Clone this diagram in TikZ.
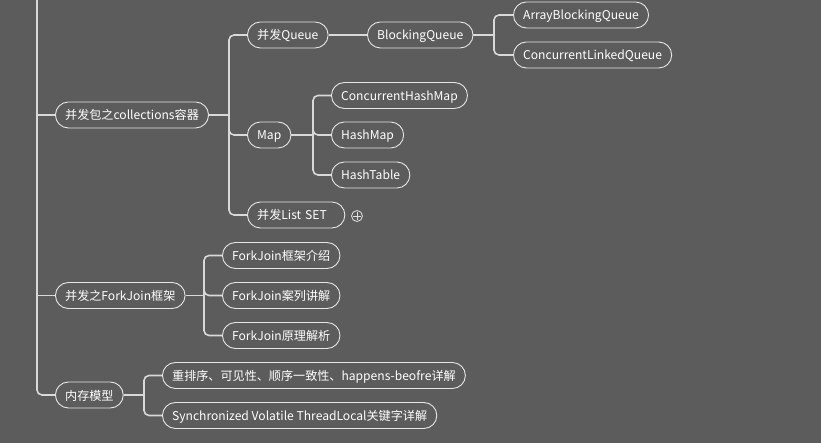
\documentclass[tikz,border=0pt]{standalone}
\usepackage{fontspec}
\usetikzlibrary{calc}
\setmainfont{Noto Sans CJK SC}
\definecolor{bg}{HTML}{5C5C5C}
\definecolor{edge}{HTML}{D9D9D9}
\definecolor{bord}{HTML}{E6E6E6}
\begin{document}
\begin{tikzpicture}[x=1pt,y=-1pt,
  topic/.style={draw=bord, line width=0.9pt, rounded corners=13pt, minimum height=26pt,
    inner xsep=9.7pt, inner ysep=0pt, text height=11pt, text depth=1pt, text=white, anchor=west,
    font=\fontsize{12.1}{13}\selectfont},
  conn/.style={draw=edge, line width=1.6pt},
  rconn/.style={conn, rounded corners=5pt}]
\fill[bg] (0,0) rectangle (821,443);
\useasboundingbox (0,0) rectangle (821,443);
% level 1
\node[topic] (coll) at (55,115) {并发包之collections容器};
\node[topic] (fj) at (55,295.5) {并发之ForkJoin框架};
\node[topic] (mem) at (55,395) {内存模型};
% level 2
\node[topic] (queue) at (247,35) {并发Queue};
\node[topic] (map) at (247,135) {Map};
\node[topic, text width=78pt] (list) at (247,215) {并发List SET};
\node[topic] (bq) at (367,35) {BlockingQueue};
\node[topic] (abq) at (513,15) {ArrayBlockingQueue};
\node[topic] (clq) at (513,55) {ConcurrentLinkedQueue};
\node[topic] (chm) at (331,95.5) {ConcurrentHashMap};
\node[topic] (hm) at (331,135) {HashMap};
\node[topic] (ht) at (331,175) {HashTable};
\node[topic] (fj1) at (222,255.5) {ForkJoin框架介绍};
\node[topic] (fj2) at (222,295.5) {ForkJoin案列讲解};
\node[topic] (fj3) at (222,335.5) {ForkJoin原理解析};
\node[topic] (m1) at (162,375.5) {重排序、可见性、顺序一致性、happens-beofre详解};
\node[topic] (m2) at (162,415.5) {Synchronized Volatile ThreadLocal关键字详解};
% expand marker
\node[draw=edge!80, circle, line width=0.8pt, minimum size=11pt, inner sep=0pt] (plus) at (357,216) {};
\draw[edge!80, line width=0.8pt] ($(plus.west)+(2,0)$) -- ($(plus.east)+(-2,0)$)
  ($(plus.north)+(0,2)$) -- ($(plus.south)+(0,-2)$);
% junction coordinates
\coordinate (top) at (37,0);
\coordinate (jc) at (229,0);
\coordinate (jb) at (494,0);
\coordinate (jm) at (313,0);
\coordinate (jf) at (204,0);
\coordinate (jr) at (144,0);
% trunk
\draw[rconn] (top) |- (mem.west);
\draw[conn] (top |- coll.west) -- (coll.west);
\draw[conn] (top |- fj.west) -- (fj.west);
% collections
\draw[conn] (coll.east) -- (jc |- coll.east);
\foreach \c in {queue,map,list} \draw[rconn] (jc |- coll.east) |- (\c.west);
\draw[conn] (queue.east) -- (bq.west);
\draw[conn] (bq.east) -- (jb |- bq.east);
\foreach \c in {abq,clq} \draw[rconn] (jb |- bq.east) |- (\c.west);
\draw[conn] (map.east) -- (jm |- map.east);
\foreach \c in {chm,hm,ht} \draw[rconn] (jm |- map.east) |- (\c.west);
% forkjoin
\draw[conn] (fj.east) -- (jf |- fj.east);
\foreach \c in {fj1,fj2,fj3} \draw[rconn] (jf |- fj.east) |- (\c.west);
% memory
\draw[conn] (mem.east) -- (jr |- mem.east);
\foreach \c in {m1,m2} \draw[rconn] (jr |- mem.east) |- (\c.west);
\end{tikzpicture}
\end{document}
